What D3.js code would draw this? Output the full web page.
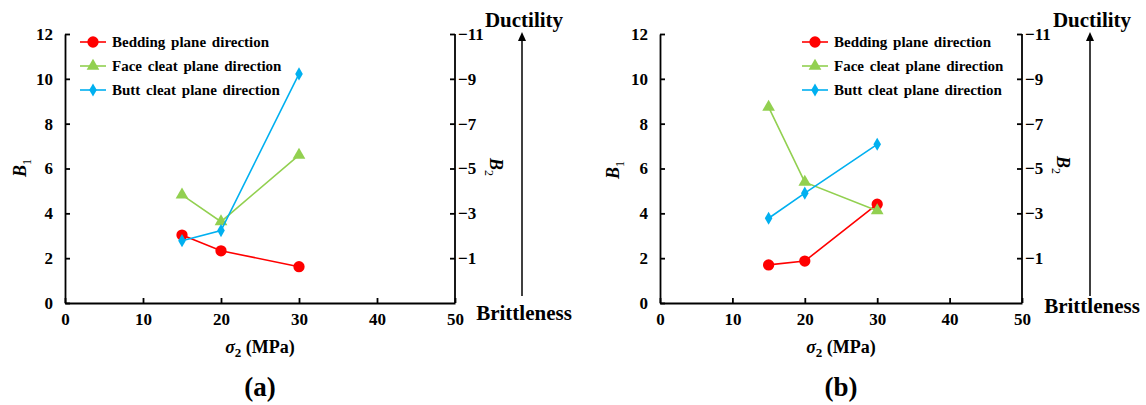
<!DOCTYPE html>
<html>
<head>
<meta charset="utf-8">
<script src="https://d3js.org/d3.v7.min.js"></script>
<style>
  body { margin: 0; background: #fff; }
  svg text { font-family: "Liberation Serif", "Times New Roman", serif; font-weight: bold; }
  .axis path, .axis line { stroke: #000; stroke-width: 1.8; }
  .axis text { font-size: 17px; fill: #000; }
</style>
</head>
<body>
<div class="visHolder"></div>
<script>
"use strict"

// shared x values (sigma2, MPa)
var sigma2 = [15, 20, 30];
var seriesNames = ['Bedding plane direction', 'Face cleat plane direction', 'Butt cleat plane direction'];
var seriesColors = ['#ff0000', '#92d050', '#00b0f0'];
var seriesShapes = ['circle', 'triangle', 'diamond'];

// panel (a)
var beddingA = [3.03, 2.33, 1.62];
var faceA = [4.82, 3.63, 6.60];
var buttA = [2.78, 3.23, 10.22];

// panel (b)
var beddingB = [1.70, 1.87, 4.41];
var faceB = [8.74, 5.39, 4.12];
var buttB = [3.78, 4.90, 7.08];

var xTicks = [0, 10, 20, 30, 40, 50];
var b1Ticks = [0, 2, 4, 6, 8, 10, 12];
var b2Ticks = [-11, -9, -7, -5, -3, -1];

var serif = '"Liberation Serif", "Times New Roman", serif';

var svg = d3.select('.visHolder').append('svg')
  .attr('width', 1146)
  .attr('height', 405);

var symbolSize = { circle: 100, triangle: 70, diamond: 50 };
var symbolType = { circle: d3.symbolCircle, triangle: d3.symbolTriangle, diamond: d3.symbolDiamond };

function drawPanel(p) {
  var x = d3.scaleLinear().domain([0, 50]).range([p.left, p.right]);
  var y = d3.scaleLinear().domain([0, 12]).range([303, 34]);
  var y2 = d3.scaleLinear().domain([1, -11]).range([303, 34]);

  svg.append('g').attr('class', 'axis')
    .attr('transform', 'translate(0,303)')
    .call(d3.axisBottom(x).tickValues(xTicks).tickSizeInner(-5).tickSizeOuter(0).tickPadding(10))
    .attr('font-family', serif);

  svg.append('g').attr('class', 'axis')
    .attr('transform', 'translate(' + p.left + ',0)')
    .call(d3.axisLeft(y).tickValues(b1Ticks).tickSizeInner(-5).tickSizeOuter(0).tickPadding(12))
    .attr('font-family', serif);

  var rightAxis = svg.append('g').attr('class', 'axis')
    .attr('transform', 'translate(' + p.right + ',0)')
    .call(d3.axisRight(y2).tickValues(b2Ticks).tickSizeInner(-5).tickSizeOuter(0).tickPadding(3))
    .attr('font-family', serif);
  rightAxis.selectAll('.tick text').attr('x', 3);
  rightAxis.select('.domain').attr('d', 'M0,303V34');

  // B1 label
  var b1 = svg.append('text')
    .attr('transform', 'translate(' + p.b1x + ',' + p.b1y + ') rotate(-90)')
    .attr('text-anchor', 'middle')
    .style('font-size', '18px');
  b1.append('tspan').style('font-style', 'italic').text('B');
  b1.append('tspan').attr('dy', 5).style('font-size', '12px').style('font-weight', 'normal').text('1');

  // B2 label
  var b2 = svg.append('text')
    .attr('transform', 'translate(' + p.b2x + ',' + p.b2y + ') rotate(90)')
    .attr('text-anchor', 'middle')
    .style('font-size', '18px');
  b2.append('tspan').style('font-style', 'italic').text('B');
  b2.append('tspan').attr('dy', 5).style('font-size', '12px').style('font-weight', 'normal').text('2');

  // x title
  var xt = svg.append('text')
    .attr('x', (p.left + p.right) / 2)
    .attr('y', 353)
    .attr('text-anchor', 'middle')
    .style('font-size', '18px');
  xt.append('tspan').style('font-style', 'italic').text('σ');
  xt.append('tspan').attr('dy', 4).style('font-size', '13px').text('2');
  xt.append('tspan').attr('dy', -4).text(' (MPa)');

  svg.append('text')
    .attr('x', (p.left + p.right) / 2)
    .attr('y', 396)
    .attr('text-anchor', 'middle')
    .style('font-size', '27px')
    .text(p.tag);

  // ductility arrow
  svg.append('line')
    .attr('x1', p.arrowX).attr('x2', p.arrowX)
    .attr('y1', 296).attr('y2', 40)
    .attr('stroke', '#000').attr('stroke-width', 1.5);
  svg.append('path')
    .attr('d', 'M' + p.arrowX + ',32 l-4,9 h8 z')
    .attr('fill', '#000');
  svg.append('text')
    .attr('x', p.arrowX + 2).attr('y', 27)
    .attr('text-anchor', 'middle')
    .style('font-size', '21px')
    .text('Ductility');
  svg.append('text')
    .attr('x', p.arrowX + 2).attr('y', p.brittleY)
    .attr('text-anchor', 'middle')
    .style('font-size', '21px')
    .text('Brittleness');

  // series
  var line = d3.line().x((d, i) => x(sigma2[i])).y(d => y(d));
  p.series.forEach(function (vals, k) {
    svg.append('path')
      .attr('d', line(vals))
      .attr('fill', 'none')
      .attr('stroke', seriesColors[k])
      .attr('stroke-width', 1.6);
    svg.selectAll(null)
      .data(vals)
      .enter()
      .append('path')
      .attr('d', d3.symbol().type(symbolType[seriesShapes[k]]).size(symbolSize[seriesShapes[k]]))
      .attr('transform', (d, i) => 'translate(' + x(sigma2[i]) + ',' + y(d) + ')')
      .attr('fill', seriesColors[k]);
  });

  // legend
  seriesNames.forEach(function (name, k) {
    var ly = 42 + k * 24;
    svg.append('line')
      .attr('x1', p.legendX).attr('x2', p.legendX + 26)
      .attr('y1', ly).attr('y2', ly)
      .attr('stroke', seriesColors[k]).attr('stroke-width', 1.6);
    svg.append('path')
      .attr('d', d3.symbol().type(symbolType[seriesShapes[k]]).size(symbolSize[seriesShapes[k]]))
      .attr('transform', 'translate(' + (p.legendX + 13) + ',' + ly + ')')
      .attr('fill', seriesColors[k]);
    svg.append('text')
      .attr('x', p.legendX + 32).attr('y', ly + 5)
      .style('font-size', '15px')
      .style('word-spacing', '2px')
      .text(name);
  });
}

drawPanel({
  tag: '(a)', left: 65, right: 455,
  b1x: 26, b1y: 168, b2x: 490, b2y: 167,
  arrowX: 522, brittleY: 320, legendX: 80,
  series: [beddingA, faceA, buttA]
});

drawPanel({
  tag: '(b)', left: 660, right: 1022,
  b1x: 619, b1y: 170, b2x: 1057, b2y: 165,
  arrowX: 1090, brittleY: 313, legendX: 802,
  series: [beddingB, faceB, buttB]
});
</script>
</body>
</html>
